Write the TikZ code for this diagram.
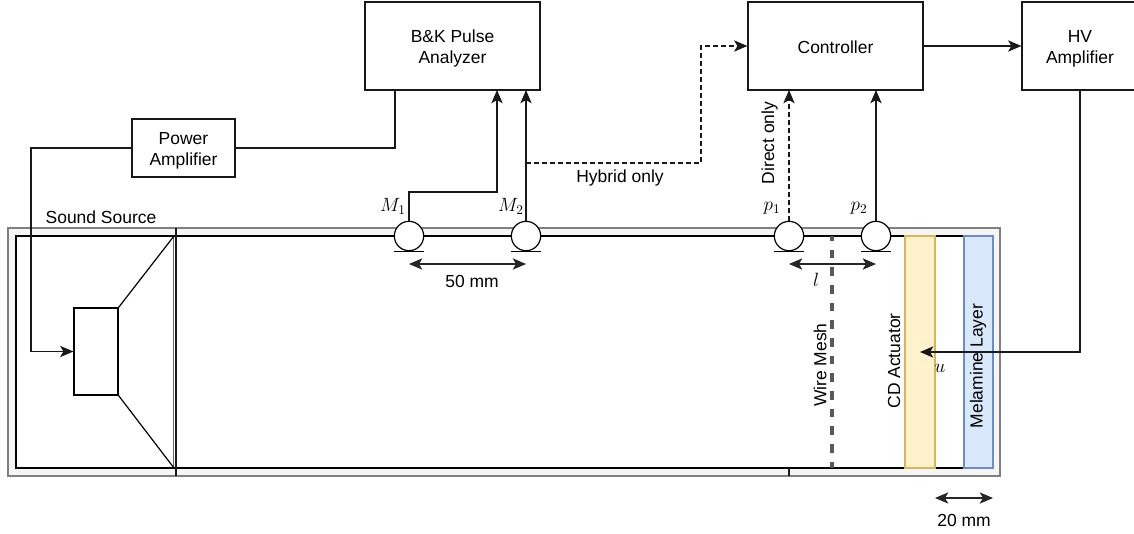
\documentclass[tikz,border=0pt]{standalone}
\usepackage{fontspec}
\setmainfont{Liberation Sans}
\usetikzlibrary{arrows.meta,positioning,calc}
\definecolor{actfill}{HTML}{FFF2CC}
\definecolor{actdraw}{HTML}{D6B656}
\definecolor{layfill}{HTML}{DAE8FC}
\definecolor{laydraw}{HTML}{6C8EBF}
\newcommand{\lowerline}{\rule{0pt}{12.5pt}}

\begin{document}
\begin{tikzpicture}[x=0.75pt, y=-0.75pt, font=\fontsize{13.1}{15.75}\selectfont,
  block/.style={draw=black!90, line width=0.9pt, minimum height=66pt, align=center, inner sep=0pt},
  mic/.style={draw=black, circle, fill=white, line width=0.9pt, minimum size=22pt, inner sep=0pt},
  arrow/.style={-{Stealth[length=10pt,width=8.5pt,inset=2.5pt]}, line width=0.8pt, draw=black!90},
  wire/.style={line width=0.8pt, draw=black!90},
  hybrid/.style={dash pattern=on 3.5pt off 2.5pt},
  dimline/.style={{Stealth[length=10pt,width=8.5pt,inset=2.5pt]}-{Stealth[length=10pt,width=8.5pt,inset=2.5pt]}, line width=0.8pt, draw=black!85},
  mathlabel/.style={font=\fontsize{14.4}{16}\selectfont, inner sep=0pt},
  rotlabel/.style={rotate=90, inner sep=0pt}]
  \useasboundingbox (0,0) rectangle (1134,533);
  % duct
  \draw[draw=black!50, fill=black!4, line width=1pt] (8,228) rectangle (1000,476);
  \draw[fill=white, line width=1.3pt] (16,236) rectangle (993,468);
  \draw[draw=black!60, line width=1pt] (173.5,236) -- (173.5,468);
  \draw[wire] (176,228) -- (176,476);
  \draw[wire] (789,468) -- (789,476);
  % speaker
  \node[draw=black, line width=0.9pt, minimum width=33pt, minimum height=65.25pt, inner sep=0pt] (coil) at (96,351.5) {};
  \draw[line width=0.9pt] (coil.north east) -- (174,236);
  \draw[line width=0.9pt] (coil.south east) -- (174,468);
  % mesh and layers
  \draw[draw=black!65, line cap=butt, dash pattern=on 6.5pt off 6.75pt, dash phase=3pt, line width=2.5pt] (832,236) -- (832,468);
  \draw[draw=actdraw, fill=actfill, line width=0.9pt] (905,236) rectangle (935,468);
  \draw[draw=laydraw, fill=layfill, line width=0.9pt] (964,236) rectangle (993,468);
  % boxes
  \node[block, minimum width=131.25pt] (analyzer) at (452.5,46) {\lowerline B\&K Pulse\\Analyzer};
  \node[block, minimum width=131.25pt] (controller) at (835.5,46) {\rule{0pt}{11pt}Controller};
  \node[block, minimum width=87pt] (hvamp) at (1080,46) {\lowerline HV\\Amplifier};
  \node[block, minimum width=77.25pt, minimum height=43.5pt] (poweramp) at (183.5,148) {\lowerline Power\\Amplifier};
  % microphones
  \node[mic] (mone) at (409,236) {};
  \node[mic] (mtwo) at (526,236) {};
  \node[mic] (pone) at (789,236) {};
  \node[mic] (ptwo) at (876,236) {};
  \foreach \m in {mone,mtwo,pone,ptwo}
    \draw[line width=0.9pt] ([xshift=-11pt]\m.south) -- ([xshift=11pt]\m.south);
  % connections
  \coordinate (hybridup) at (701,163);
  \draw[arrow] (poweramp.west) -- (31,148) |- (coil.west);
  \draw[wire] (poweramp.east) -- (395,148) -- (395,90);
  \draw[arrow] (mone.north) -- (409,192) -- (497,192) -- (497,90);
  \draw[arrow] (mtwo.north) -- (526,90);
  \draw[arrow, hybrid] (526,163) -- (hybridup) |- (controller.west);
  \draw[arrow, hybrid] (pone.north) -- (789,90);
  \draw[arrow] (ptwo.north) -- (876,90);
  \draw[arrow] (controller.east) -- (hvamp.west);
  \draw[arrow] (hvamp.south) -- (1080,352) -- (920,352);
  % dimensions
  \coordinate (dimaleft) at (409,264);
  \coordinate (dimaright) at (526,264);
  \coordinate (dimbleft) at (789,264);
  \coordinate (dimbright) at (876,264);
  \coordinate (dimcleft) at (935,498);
  \coordinate (dimcright) at (993,498);
  \draw[dimline] (dimaleft) -- (dimaright);
  \draw[dimline] (dimbleft) -- (dimbright);
  \draw[dimline] (dimcleft) -- (dimcright);
  % labels
  \node (srclabel) at (101,217) {Sound Source};
  \node (hyblabel) at (620,178) {Hybrid only};
  \node[rotlabel] (dirlabel) at (769.5,143) {Direct only};
  \node (dimalabel) at (472,281) {50 mm};
  \node[mathlabel] (dimblabel) at (816,280) {$l$};
  \node (dimclabel) at (964,520) {20 mm};
  \node[mathlabel] (ulabel) at (940,368) {$u$};
  \node[rotlabel] (meshlabel) at (820,365) {Wire Mesh};
  \node[rotlabel] (actlabel) at (894,361) {CD Actuator};
  \node[rotlabel] (laylabel) at (978,366) {Melamine Layer};
  \node[mathlabel] (monelabel) at (393,206) {$M_1$};
  \node[mathlabel] (mtwolabel) at (511,206) {$M_2$};
  \node[mathlabel] (ponelabel) at (772,208) {$p_1$};
  \node[mathlabel] (ptwolabel) at (859,208) {$p_2$};
\end{tikzpicture}
\end{document}
